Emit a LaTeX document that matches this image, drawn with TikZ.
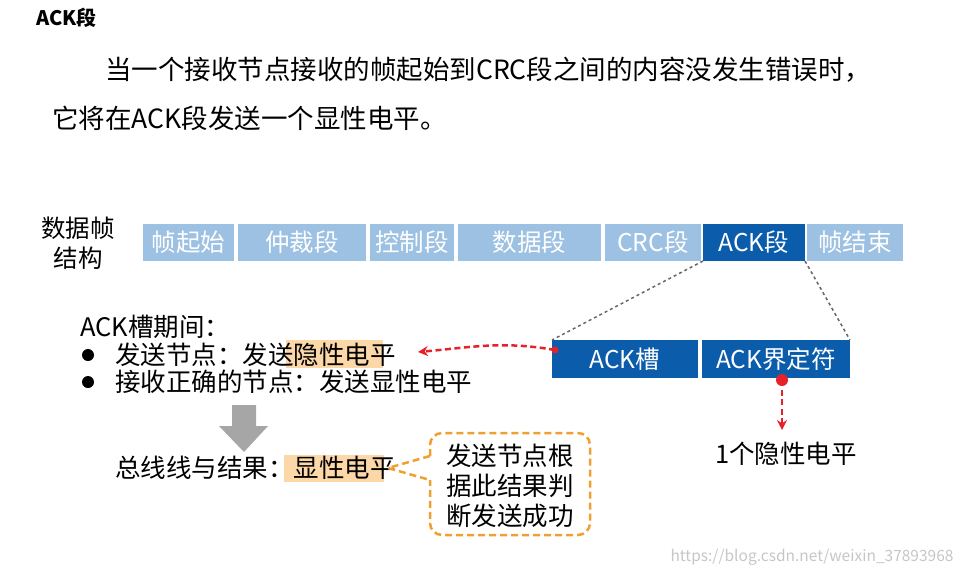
\documentclass[tikz,border=0pt]{standalone}
\usepackage{fontspec}
\setmainfont{Noto Sans CJK SC}
\usetikzlibrary{arrows.meta}
\definecolor{lb}{HTML}{9DC1E3}
\definecolor{db}{HTML}{0B5CAB}
\definecolor{hl}{HTML}{FCD7A8}
\definecolor{org}{HTML}{F0A030}
\definecolor{rd}{HTML}{E8202A}
\begin{document}
\begin{tikzpicture}[x=1pt,y=-1pt,
  seg/.style={fill=lb,text=white,font=\fontsize{24.5}{26}\selectfont},
  dseg/.style={fill=db,text=white,font=\fontsize{24.5}{26}\selectfont},
  txt/.style={font=\fontsize{25.5}{27}\selectfont,anchor=west,inner sep=0pt},
  redarr/.style={rd,line width=2.5pt,dash pattern=on 6pt off 3.5pt,-{Stealth[length=10pt,width=10pt]}}]
\useasboundingbox (0,0) rectangle (965,576);
\node[anchor=west,inner sep=0pt,font=\bfseries\fontsize{20}{22}\selectfont] (title) at (36,18) {ACK段};
\node[txt,font=\fontsize{26.5}{28}\selectfont] (p1) at (105,70) {当一个接收节点接收的帧起始到CRC段之间的内容没发生错误时，};
\node[txt,font=\fontsize{26.5}{28}\selectfont] (p2) at (52,118) {它将在ACK段发送一个显性电平。};
\node[font=\fontsize{24.5}{30}\selectfont,align=center] (lbl) at (78,243) {数据帧\\结构};
\foreach \n/\a/\b/\t in {s1/143/234/帧起始,s2/238/366/仲裁段,s3/370/454/控制段,s4/458/601/数据段,s5/605/701/CRC段,s7/807/903/帧结束}
  \path[seg] (\a,224) rectangle (\b,261) node[midway] (\n) {\t};
\path[dseg] (703,224) rectangle (805,261) node[midway] (s6) {ACK段};
\path[dseg] (552,340) rectangle (698,378) node[midway] (k1) {ACK槽};
\path[dseg] (702,340) rectangle (850,378) node[midway] (k2) {ACK界定符};
\coordinate (a1) at (703,261); \coordinate (a2) at (805,261);
\coordinate (b1) at (552,340); \coordinate (b2) at (850,340);
\draw[gray!80!black,dashed,line width=1.5pt] (a1)--(b1) (a2)--(b2);
% left texts
\node[txt] (t0) at (80,327) {ACK槽期间：};
\fill[hl] (286,340) rectangle (383,368);
\fill[hl] (284,455) rectangle (384,482);
\fill (88,355) circle (6); \fill (88,382) circle (6);
\node[txt] (t1) at (115,355) {发送节点：发送隐性电平};
\node[txt] (t2) at (115,382) {接收正确的节点：发送显性电平};
\fill[gray!70] (232,405) rectangle (256,426) -- (268,426) -- (244,452) -- (219,426) -- (232,426);
\node[txt] (t3) at (115,468) {总线线与结果：显性电平};
\coordinate (hk) at (418,352);
\coordinate (src) at (555,350);
\fill[rd] (src) circle (3.5);
\draw[redarr] (src) to[out=170,in=5] (hk);
\coordinate (d0) at (782,380); \coordinate (d1) at (782,430);
\fill[rd] (d0) circle (6);
\draw[redarr] (d0)--(d1);
\node[font=\fontsize{25.5}{27}\selectfont] (one) at (786,454) {1个隐性电平};
% callout
\coordinate (tip) at (388,468);
\draw[org,line width=2.5pt,dash pattern=on 7pt off 4pt,rounded corners=12pt,fill=white]
  (430,456) -- (430,433) -- (590,433) -- (590,535) -- (430,535) -- (430,480);
\draw[org,line width=2.5pt,dash pattern=on 7pt off 4pt] (430,456) -- (tip) -- (430,480);
\node[font=\fontsize{25.5}{30}\selectfont,align=center] (cb) at (510,486) {发送节点根\\据此结果判\\断发送成功};
\node[anchor=east,text=gray!45,font=\fontsize{15.5}{17}\selectfont] (wm) at (957,557) {https://blog.csdn.net/weixin\_37893968};
\end{tikzpicture}
\end{document}
